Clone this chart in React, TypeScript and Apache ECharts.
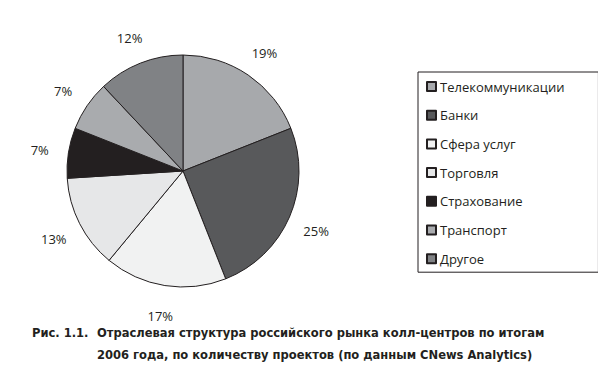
import React, { useEffect, useRef } from "react";
import * as echarts from "echarts";

const categories = [
  "Телекоммуникации",
  "Банки",
  "Сфера услуг",
  "Торговля",
  "Страхование",
  "Транспорт",
  "Другое",
];
const shares = [19, 25, 17, 13, 7, 7, 12];
const sliceColors = ["#a7a9ac", "#58595b", "#f1f2f2", "#e6e7e8", "#231f20", "#a9abae", "#808285"];
const captionLabel = "Рис. 1.1.";
const captionLines = [
  "Отраслевая структура российского рынка колл-центров по итогам",
  "2006 года, по количеству проектов (по данным CNews Analytics)",
];

export default function App() {
  const ref = useRef<HTMLDivElement>(null);
  useEffect(() => {
    if (!ref.current) return;
    const chart = echarts.init(ref.current, undefined, { renderer: "svg" });
    const data = categories.map((name, i) => ({
      name,
      value: shares[i],
      itemStyle: { color: sliceColors[i] },
    }));
    const textColor = "#231f20";
    const font = "Open Sans";
    const capFont = "DejaVu Sans Condensed";
    chart.setOption({
      animation: false,
      backgroundColor: "#ffffff",
      legend: {
        orient: "vertical",
        left: 418,
        top: 72,
        data: categories,
        icon: "rect",
        itemWidth: 9,
        itemHeight: 9,
        itemGap: 15.7,
        padding: [8, 34, 7, 8],
        borderColor: "#231f20",
        borderWidth: 1,
        textStyle: { color: textColor, fontSize: 13, fontFamily: font, padding: [0, 0, 0, -1] },
        selectedMode: false,
      },
      series: [
        {
          type: "pie",
          center: [183, 171],
          radius: 116,
          startAngle: 90,
          clockwise: true,
          silent: true,
          label: { show: false },
          labelLine: { show: false },
          itemStyle: { borderColor: "#231f20", borderWidth: 1 },
          data,
        },
        {
          type: "pie",
          center: [183, 173],
          radius: [118, 166],
          startAngle: 90,
          clockwise: true,
          silent: true,
          legendHoverLink: false,
          label: {
            show: true,
            position: "inside",
            formatter: "{c}%",
            color: textColor,
            fontSize: 13,
            fontFamily: font,
          },
          labelLine: { show: false },
          itemStyle: { color: "rgba(0,0,0,0)", borderWidth: 0 },
          data: categories.map((name, i) => ({ name, value: shares[i], itemStyle: { color: "rgba(0,0,0,0)" } })),
        },
      ],
      graphic: [
        {
          type: "text",
          left: 32,
          top: 326,
          style: { text: captionLabel, fontSize: 12.8, fontWeight: "bold", fontFamily: capFont, fill: textColor },
        },
        {
          type: "text",
          left: 97,
          top: 326,
          style: { text: captionLines[0], fontSize: 12.8, fontWeight: "bold", fontFamily: capFont, fill: textColor },
        },
        {
          type: "text",
          left: 97,
          top: 348,
          style: { text: captionLines[1], fontSize: 12.8, fontWeight: "bold", fontFamily: capFont, fill: textColor },
        },
      ],
    });
    return () => chart.dispose();
  }, []);
  return <div ref={ref} style={{ width: 606, height: 373, margin: -8 }} />;
}
